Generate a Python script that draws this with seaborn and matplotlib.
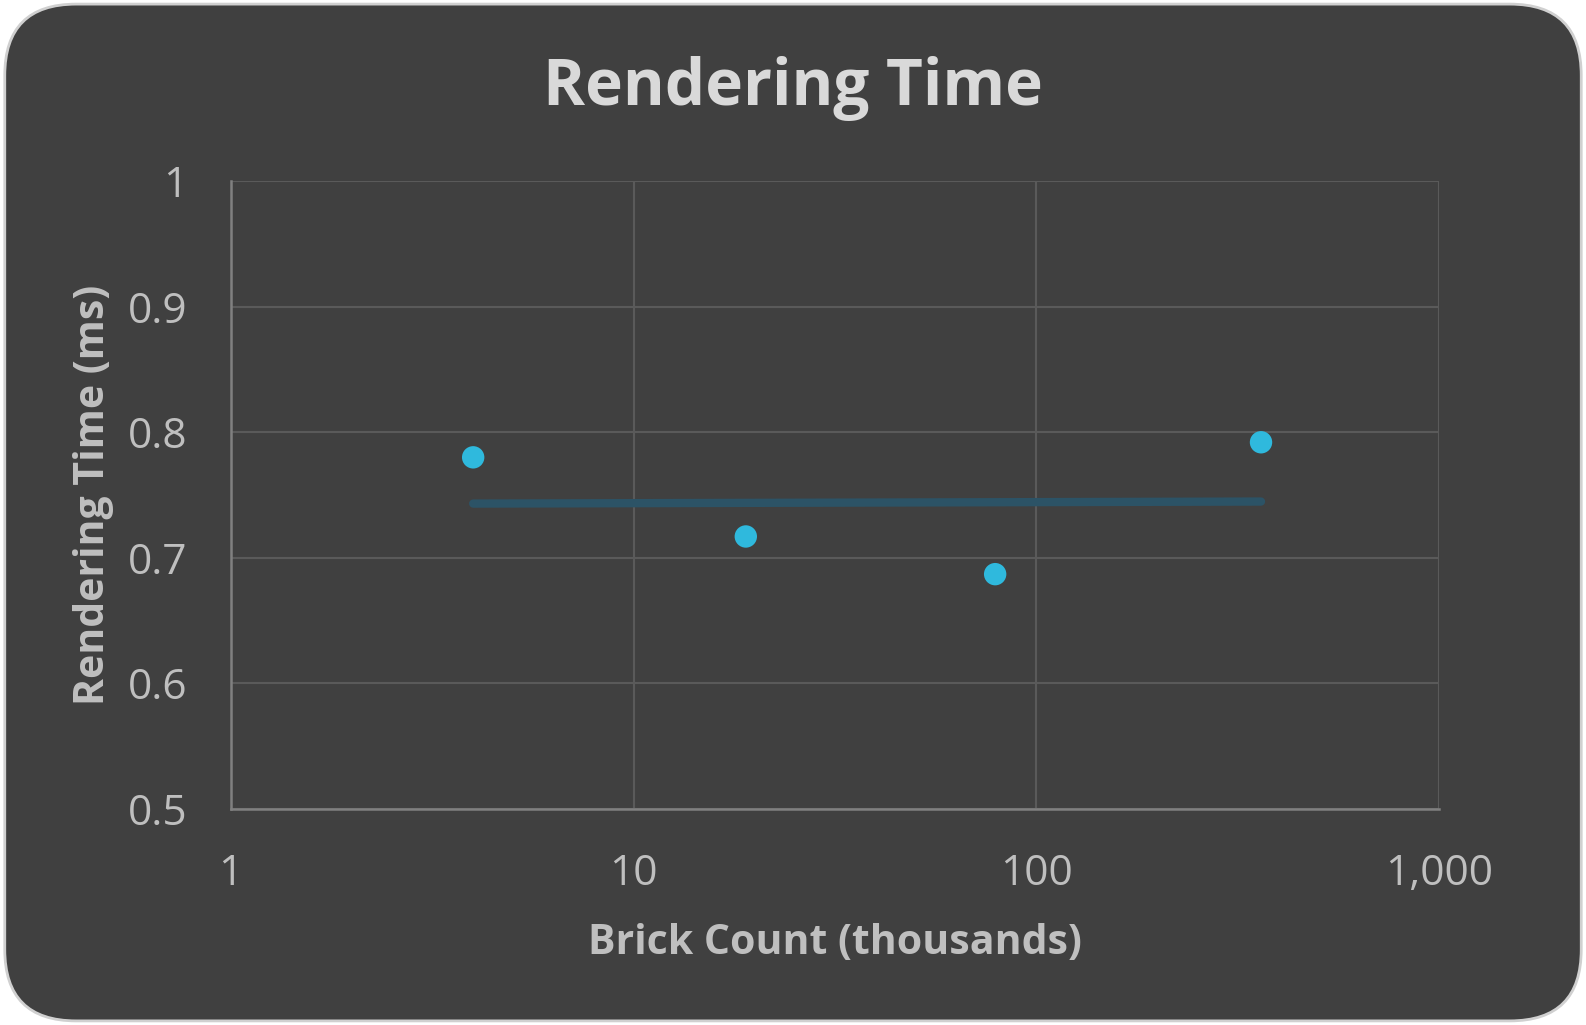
import numpy as np
import pandas as pd
import matplotlib
matplotlib.use('Agg')
import matplotlib.pyplot as plt
import seaborn as sns
from matplotlib.patches import FancyBboxPatch
from matplotlib.ticker import FixedLocator, FuncFormatter, NullLocator

# data
brick_count = [4, 19, 79, 361]          # thousands
render_ms = [0.780, 0.717, 0.687, 0.792]
x_ticks = [1, 10, 100, 1000]
y_ticks = [0.5, 0.6, 0.7, 0.8, 0.9, 1.0]

df = pd.DataFrame({'bricks': brick_count, 'ms': render_ms})

bg = '#404040'
txt = '#BFBFBF'

sns.set_style('dark')
plt.rcParams['font.family'] = ['Open Sans', 'DejaVu Sans']

fig = plt.figure(figsize=(15.86, 10.25), dpi=100)
fig.patch.set_facecolor('white')
card = FancyBboxPatch((0.003, 0.004), 0.994, 0.992,
                      boxstyle='round,pad=0,rounding_size=0.045',
                      transform=fig.transFigure, facecolor=bg,
                      edgecolor='#D0D0D0', linewidth=2, mutation_aspect=1586 / 1025,
                      zorder=-10)
fig.patches.append(card)

ax = fig.add_axes([0.1454, 0.2107, 0.7621, 0.6127])
ax.set_facecolor(bg)

# logarithmic trendline
sns.regplot(data=df, x='bricks', y='ms', logx=True, ci=None, scatter=False, ax=ax,
            line_kws={'color': '#2C5366', 'linewidth': 6, 'solid_capstyle': 'round'})
sns.scatterplot(data=df, x='bricks', y='ms', ax=ax, s=260, color='#2FB9DD',
                edgecolor='none', zorder=5)

ax.set_xscale('log')
ax.set_xlim(1, 1000)
ax.set_ylim(0.5, 1.0)
ax.xaxis.set_major_locator(FixedLocator(x_ticks))
ax.xaxis.set_minor_locator(NullLocator())
ax.xaxis.set_major_formatter(FuncFormatter(lambda v, p: f'{v:,.0f}'))
ax.yaxis.set_major_locator(FixedLocator(y_ticks))
ax.yaxis.set_major_formatter(FuncFormatter(lambda v, p: f'{v:g}'))

ax.grid(True, color='#5A5A5A', linewidth=1.5)
ax.set_axisbelow(True)
for side in ['top', 'right']:
    ax.spines[side].set_visible(False)
for side in ['left', 'bottom']:
    ax.spines[side].set_color('#808080')
    ax.spines[side].set_linewidth(1.8)

ax.tick_params(axis='both', length=0, labelsize=30.5, colors=txt)
ax.tick_params(axis='x', pad=32)
ax.tick_params(axis='y', pad=31)

ax.set_xlabel('Brick Count (thousands)', fontsize=29.5, fontweight='bold', color=txt, labelpad=20)
ax.set_ylabel('Rendering Time (ms)', fontsize=29.5, fontweight='bold', color=txt, labelpad=10)
fig.text(0.5, 0.914, 'Rendering Time', ha='center', va='center',
         fontsize=46, fontweight='bold', color='#D9D9D9')

fig.savefig('out.png', dpi=100, facecolor='white')
